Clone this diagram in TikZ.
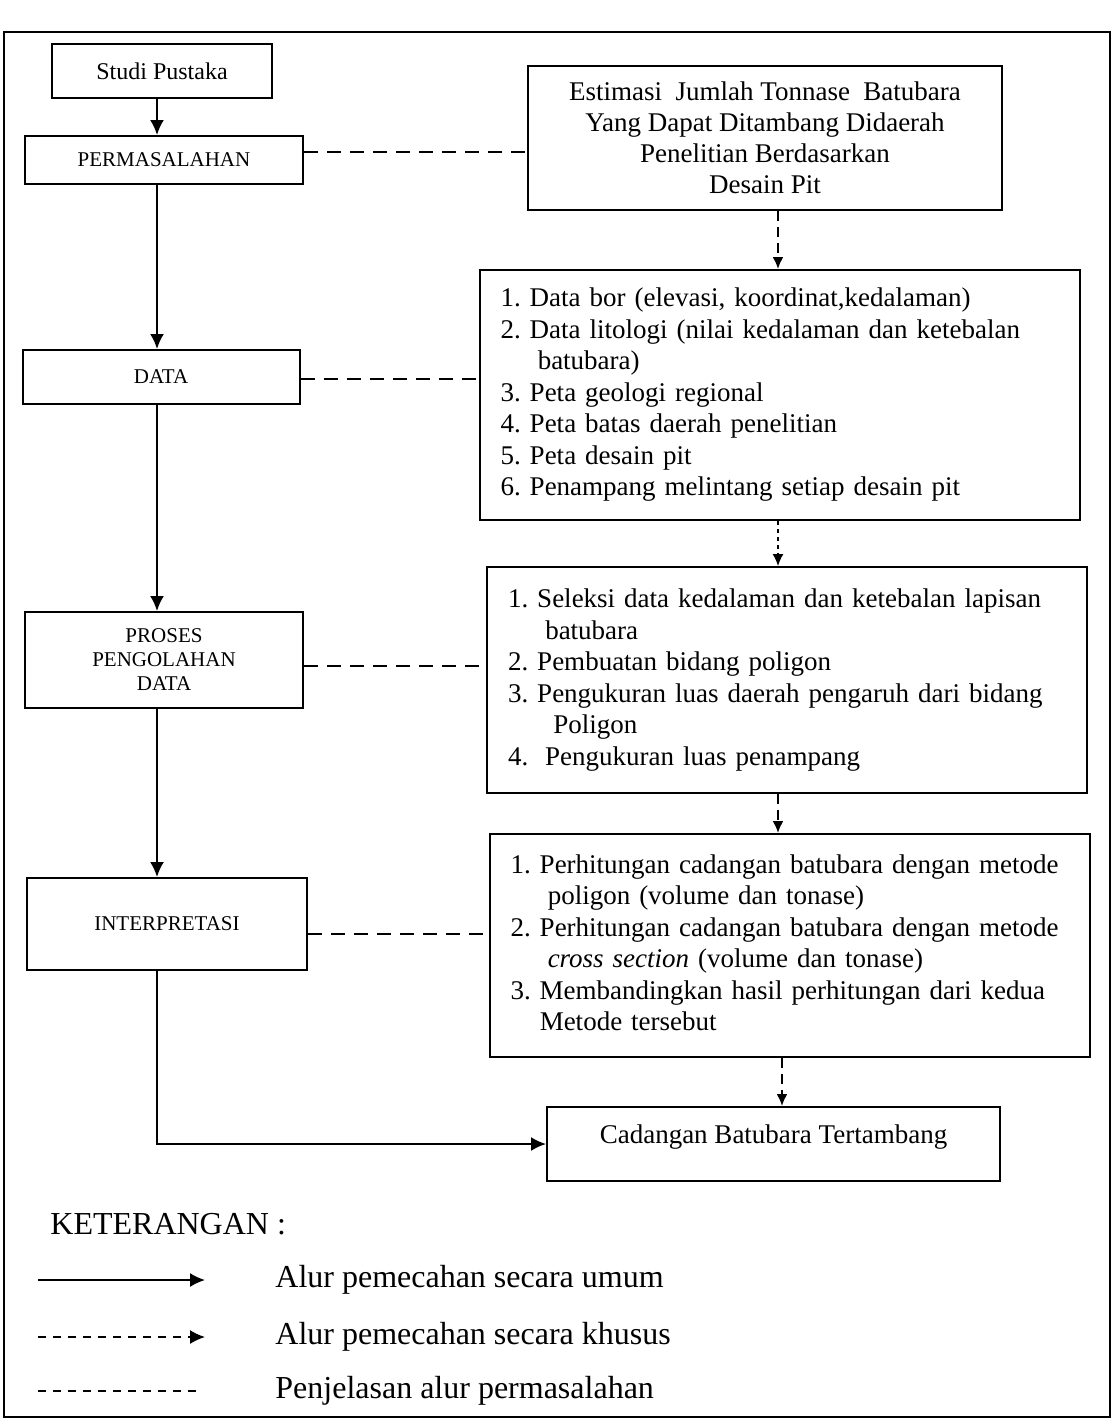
\documentclass[tikz,border=0pt]{standalone}
\usepackage{fontspec}
\setmainfont{Liberation Serif}
\usetikzlibrary{positioning,arrows.meta}
\tikzset{>={Latex[length=7.5pt,width=7pt]},
  box/.style={draw,line width=1pt,inner sep=0pt,align=center},
  caps/.style={font=\fontsize{10.5}{12}\selectfont},
  listbox/.style={draw,line width=1pt,inner xsep=10.5pt,inner ysep=0pt,text width=279pt,
    font=\fontsize{13.5}{15.75}\selectfont},
  umum/.style={->,line width=1pt},
  khusus/.style={-{Latex[length=6pt,width=5.5pt]},line width=1pt,dash pattern=on 5pt off 3pt},
  penjelasan/.style={line width=1pt,dash pattern=on 7pt off 4.5pt},
  legtext/.style={inner sep=0pt,anchor=west,font=\fontsize{16}{18}\selectfont}}

\begin{document}
\begin{tikzpicture}[x=0.5pt,y=-0.5pt]
  \useasboundingbox (0,0) rectangle (1114,1420);
  \draw [line width=1pt] (4,32) rectangle (1110,1417);
  % kolom kiri
  \node [box,minimum width=110pt,minimum height=27pt,font=\fontsize{12}{14}\selectfont] (studi) at (162,71) {Studi Pustaka};
  \node [box,caps,minimum width=139pt,minimum height=24pt] (masalah) at (164,160) {PERMASALAHAN};
  \node [box,caps,minimum width=138.5pt,minimum height=27pt] (data) at (161,377) {DATA};
  \node [box,caps,minimum width=139pt,minimum height=48pt] (proses) at (164,660) {PROSES\\PENGOLAHAN\\DATA};
  \node [box,caps,minimum width=140pt,minimum height=46pt] (interp) at (167,924) {INTERPRETASI};
  \coordinate (jalur) at (157,0);
  \coordinate (kanan) at (778,0);
  % kolom kanan
  \node [box,minimum width=237pt,minimum height=72pt,font=\fontsize{13.5}{15.5}\selectfont] (estimasi) at (765,138)
    {Estimasi\ \ Jumlah Tonnase\ \ Batubara\\Yang Dapat Ditambang Didaerah\\Penelitian Berdasarkan\\Desain Pit};
  \node [listbox,minimum height=125pt] (ldata) at (779.5,395) {%
    \begin{tabular}{@{}l@{\hspace{4.5pt}}l@{}}
      1. & Data bor (elevasi, koordinat,kedalaman)\\
      2. & Data litologi (nilai kedalaman dan ketebalan\\
         & \hspace{4pt}batubara)\\
      3. & Peta geologi regional\\
      4. & Peta batas daerah penelitian\\
      5. & Peta desain pit\\
      6. & Penampang melintang setiap desain pit
    \end{tabular}};
  \node [listbox,minimum height=113pt] (lproses) at (787,680) {%
    \begin{tabular}{@{}l@{\hspace{4.5pt}}l@{}}
      1. & Seleksi data kedalaman dan ketebalan lapisan\\
         & \hspace{4pt}batubara\\
      2. & Pembuatan bidang poligon\\
      3. & Pengukuran luas daerah pengaruh dari bidang\\
         & \hspace{8pt}Poligon\\
      4. & \hspace{4pt}Pengukuran luas penampang
    \end{tabular}};
  \node [listbox,minimum height=111.5pt] (linterp) at (789.5,945.5) {%
    \begin{tabular}{@{}l@{\hspace{4.5pt}}l@{}}
      1. & Perhitungan cadangan batubara dengan metode\\
         & \hspace{4pt}poligon (volume dan tonase)\\
      2. & Perhitungan cadangan batubara dengan metode\\
         & \hspace{4pt}\textit{cross section} (volume dan tonase)\\
      3. & Membandingkan hasil perhitungan dari kedua\\
         & Metode tersebut
    \end{tabular}};
  \node [box,minimum width=226.5pt,minimum height=37pt,text depth=10pt,font=\fontsize{13.5}{15.5}\selectfont] (hasil) at (773.5,1144) {Cadangan Batubara Tertambang};
  % alur umum
  \draw [umum] (studi.south -| jalur) -- (masalah.north -| jalur);
  \draw [umum] (masalah.south -| jalur) -- (data.north -| jalur);
  \draw [umum] (data.south -| jalur) -- (proses.north -| jalur);
  \draw [umum] (proses.south -| jalur) -- (interp.north -| jalur);
  \draw [umum] (interp.south -| jalur) |- (hasil.west);
  % alur khusus
  \draw [khusus] (estimasi.south -| kanan) -- (ldata.north -| kanan);
  \draw [khusus,line width=0.7pt,dash pattern=on 2pt off 2pt] (ldata.south -| kanan) -- (lproses.north -| kanan);
  \draw [khusus] (lproses.south -| kanan) -- (linterp.north -| kanan);
  \draw [khusus] ([xshift=2pt]linterp.south -| kanan) -- ([xshift=2pt]hasil.north -| kanan);
  % penjelasan
  \draw [penjelasan] ([yshift=4pt]masalah.east) -- ([yshift=4pt]masalah.east -| estimasi.west);
  \draw [penjelasan] ([yshift=-1pt]data.east) -- ([yshift=-1pt]data.east -| ldata.west);
  \draw [penjelasan] ([yshift=-3pt]proses.east) -- ([yshift=-3pt]proses.east -| lproses.west);
  \draw [penjelasan] ([yshift=-5pt]interp.east) -- ([yshift=-5pt]interp.east -| linterp.west);
  % keterangan
  \node [legtext] (ket) at (50,1224) {KETERANGAN :};
  \coordinate (a1) at (38,1280);
  \coordinate (b1) at (205,1280);
  \coordinate (a2) at (38,1337);
  \coordinate (b2) at (205,1337);
  \coordinate (a3) at (38,1391);
  \coordinate (b3) at (200,1391);
  \draw [umum,line width=0.9pt] (a1) -- (b1);
  \draw [->,line width=0.8pt,dash pattern=on 4pt off 3.5pt] (a2) -- (b2);
  \draw [line width=0.8pt,dash pattern=on 4pt off 3.5pt] (a3) -- (b3);
  \node [legtext,right=35pt of b1] (t1) {Alur pemecahan secara umum};
  \node [legtext,right=35pt of b2] (t2) {Alur pemecahan secara khusus};
  \node [legtext,right=37.5pt of b3] (t3) {Penjelasan alur permasalahan};
\end{tikzpicture}
\end{document}
